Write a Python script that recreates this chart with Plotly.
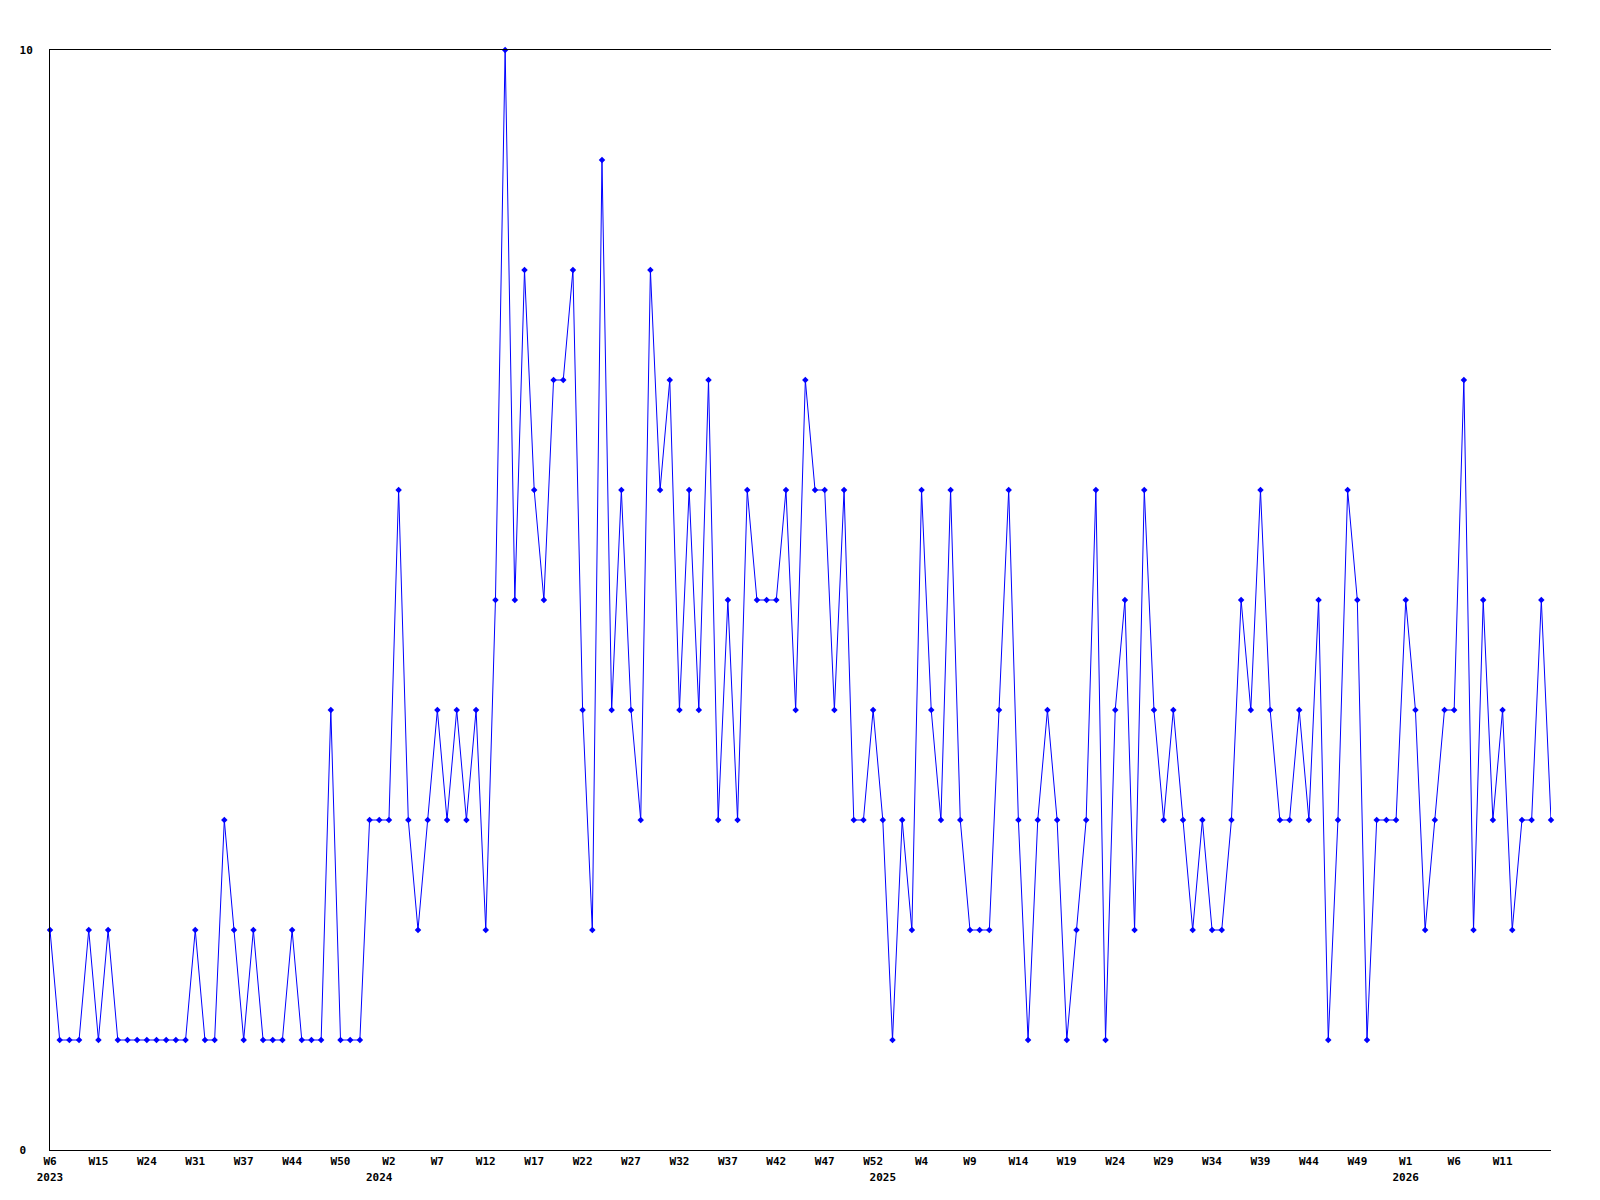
import plotly.graph_objects as go


LINE_BLUE = "#0000FF"
AXIS_BLACK = "#000000"
FONT_FAMILY = "DejaVu Sans Mono"

# one value per plotted week, left to right
weekly_counts = [
    2, 1, 1, 1, 2, 1, 2, 1, 1, 1,
    1, 1, 1, 1, 1, 2, 1, 1, 3, 2,
    1, 2, 1, 1, 1, 2, 1, 1, 1, 4,
    1, 1, 1, 3, 3, 3, 6, 3, 2, 3,
    4, 3, 4, 3, 4, 2, 5, 10, 5, 8,
    6, 5, 7, 7, 8, 4, 2, 9, 4, 6,
    4, 3, 8, 6, 7, 4, 6, 4, 7, 3,
    5, 3, 6, 5, 5, 5, 6, 4, 7, 6,
    6, 4, 6, 3, 3, 4, 3, 1, 3, 2,
    6, 4, 3, 6, 3, 2, 2, 2, 4, 6,
    3, 1, 3, 4, 3, 1, 2, 3, 6, 1,
    4, 5, 2, 6, 4, 3, 4, 3, 2, 3,
    2, 2, 3, 5, 4, 6, 4, 3, 3, 4,
    3, 5, 1, 3, 6, 5, 1, 3, 3, 3,
    5, 4, 2, 3, 4, 4, 7, 2, 5, 3,
    4, 2, 3, 3, 5, 3,
]

# a week label on every 5th point
week_ticks = [
    "W6", "W15", "W24", "W31", "W37", "W44", "W50",
    "W2", "W7", "W12", "W17", "W22", "W27", "W32", "W37", "W42", "W47", "W52",
    "W4", "W9", "W14", "W19", "W24", "W29", "W34", "W39", "W44", "W49",
    "W1", "W6", "W11",
]
TICK_STEP = 5

# year labels sit under the first week of each year
year_labels = ["2023", "2024", "2025", "2026"]
year_first_point = [0, 34, 86, 140]

y_ticks = [0, 10]
y_tick_text = ["0\u00a0", "10"]


points = list(range(len(weekly_counts)))
week_tick_points = points[::TICK_STEP][:len(week_ticks)]

fig = go.Figure()

fig.add_trace(
    go.Scatter(
        x=points,
        y=weekly_counts,
        mode="lines+markers",
        line=dict(color=LINE_BLUE, width=1),
        marker=dict(symbol="diamond", size=5, color=LINE_BLUE),
        cliponaxis=False,
        showlegend=False,
        hoverinfo="skip",
    )
)

# invisible trace so the year axis is drawn
fig.add_trace(
    go.Scatter(
        x=[points[0]],
        y=[weekly_counts[0]],
        xaxis="x2",
        mode="markers",
        marker=dict(opacity=0),
        showlegend=False,
        hoverinfo="skip",
    )
)

axis_font = dict(family=FONT_FAMILY, size=11, color=AXIS_BLACK, weight="bold")
x_range = [points[0], points[-1]]

# the page body adds 8px around the figure, so the figure is a bit smaller
fig.update_layout(
    width=1584,
    height=1184,
    paper_bgcolor="#FFFFFF",
    plot_bgcolor="#FFFFFF",
    margin=dict(l=42, r=41, t=42, b=42, pad=0),
    showlegend=False,
    xaxis=dict(
        range=x_range,
        tickmode="array",
        tickvals=week_tick_points,
        ticktext=week_ticks,
        tickfont=axis_font,
        ticks="",
        ticklabelstandoff=1,
        automargin=False,
        showgrid=False,
        zeroline=False,
        showline=True,
        mirror=True,
        linecolor=AXIS_BLACK,
        linewidth=1,
    ),
    xaxis2=dict(
        range=x_range,
        overlaying="x",
        anchor="y",
        side="bottom",
        tickmode="array",
        tickvals=year_first_point,
        ticktext=year_labels,
        tickfont=axis_font,
        ticks="",
        ticklabelstandoff=19,
        automargin=False,
        showgrid=False,
        zeroline=False,
        showline=False,
    ),
    yaxis=dict(
        range=[0, 10],
        tickmode="array",
        tickvals=y_ticks,
        ticktext=y_tick_text,
        tickfont=axis_font,
        ticks="",
        ticklabelstandoff=14,
        automargin=False,
        showgrid=False,
        zeroline=False,
        showline=True,
        linecolor=AXIS_BLACK,
        linewidth=1,
    ),
)

fig.write_html("out.html")
